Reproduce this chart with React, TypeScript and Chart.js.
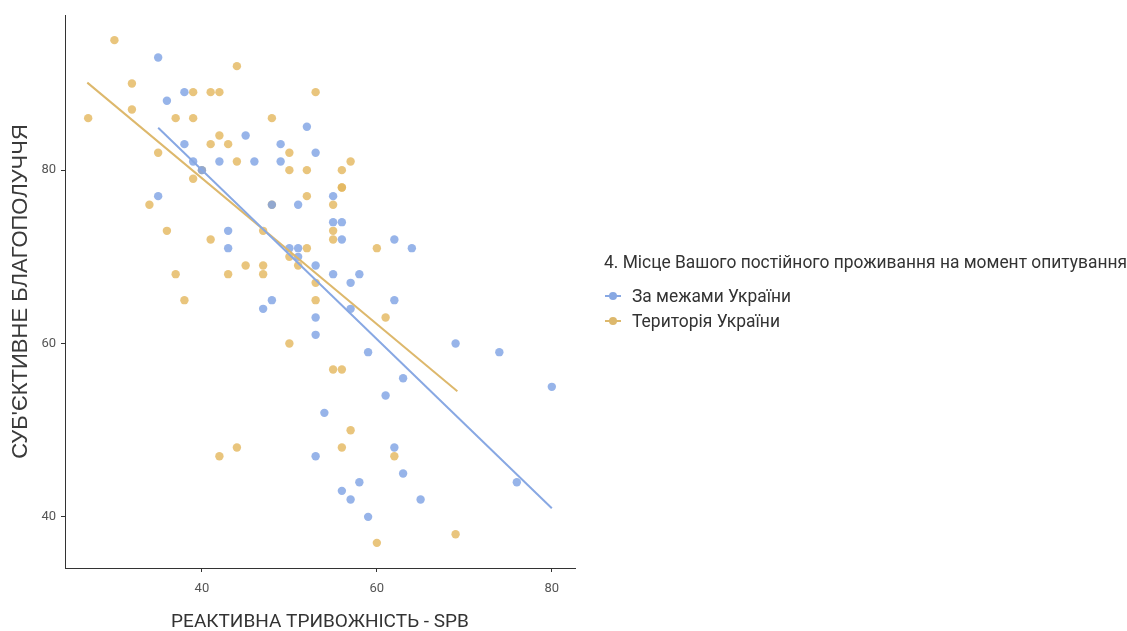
import React, { useEffect, useLayoutEffect, useRef } from "react";
import { Chart, registerables } from "chart.js";

Chart.register(...registerables);

// За межами України (blue)
const abroadX = [35, 38, 36, 45, 38, 39, 42, 46, 35, 40, 52, 49, 53, 49, 55, 48, 51, 43, 43, 55, 56, 56, 62, 64, 50, 51, 51, 53, 55, 58, 57, 48, 62, 47, 57, 53, 53, 59, 63, 61, 54, 53, 62, 63, 58, 56, 57, 65, 59, 69, 74, 80, 76];
const abroadY = [93, 89, 88, 84, 83, 81, 81, 81, 77, 80, 85, 83, 82, 81, 77, 76, 76, 73, 71, 74, 74, 72, 72, 71, 71, 71, 70, 69, 68, 68, 67, 65, 65, 64, 64, 63, 61, 59, 56, 54, 52, 47, 48, 45, 44, 43, 42, 42, 40, 60, 59, 55, 44];

// Територія України (orange)
const homeX = [27, 30, 32, 32, 35, 34, 36, 37, 37, 38, 39, 39, 39, 40, 41, 42, 44, 42, 41, 43, 44, 53, 48, 50, 50, 52, 56, 57, 56, 56, 52, 48, 55, 41, 45, 43, 55, 55, 60, 47, 52, 50, 51, 47, 47, 53, 53, 61, 50, 55, 56, 57, 56, 62, 60, 42, 44, 69];
const homeY = [86, 95, 90, 87, 82, 76, 73, 86, 68, 65, 86, 89, 79, 80, 89, 89, 92, 84, 83, 83, 81, 89, 86, 82, 80, 80, 80, 81, 78, 78, 77, 76, 76, 72, 69, 68, 73, 72, 71, 73, 71, 70, 69, 69, 68, 67, 65, 63, 60, 57, 57, 50, 48, 47, 37, 47, 48, 38];

// Fitted trend lines
const abroadTrendX = [35, 80];
const abroadTrendY = [84.9, 41.0];
const homeTrendX = [26.9, 69.2];
const homeTrendY = [90.1, 54.5];

const xTicks = [40, 60, 80];
const yTicks = [40, 60, 80];

const seriesNames = ["За межами України", "Територія України"];
const legendTitle = "4. Місце Вашого постійного проживання на момент опитування";
const xTitle = "РЕАКТИВНА ТРИВОЖНІСТЬ - SPB";
const yTitle = "СУБ'ЄКТИВНЕ БЛАГОПОЛУЧЧЯ";

const BLUE = "rgba(125,161,227,0.8)";
const ORANGE = "rgba(228,183,92,0.8)";
const BLUE_LINE = "#88a8e3";
const ORANGE_LINE = "#ddb86c";
const FONT = "'Roboto', 'Liberation Sans', sans-serif";
const YFONT = "'Liberation Sans', 'Roboto', sans-serif";

const zip = (xs: number[], ys: number[]) => xs.map((x, i) => ({ x, y: ys[i] }));

function Fit({ width, children, style }: { width: number; children: React.ReactNode; style: React.CSSProperties }) {
  const r = useRef<HTMLDivElement | null>(null);
  useLayoutEffect(() => {
    const el = r.current;
    if (!el) return;
    el.style.transform = "none";
    const w = el.getBoundingClientRect().width;
    if (w > 0) el.style.transform = `scaleX(${width / w})`;
  }, [width]);
  return (
    <div ref={r} style={{ ...style, position: "absolute", whiteSpace: "nowrap", transformOrigin: "left center", display: "inline-block" }}>
      {children}
    </div>
  );
}

export default function App() {
  const ref = useRef<HTMLCanvasElement | null>(null);
  useEffect(() => {
    if (!ref.current) return;
    const chart = new Chart(ref.current, {
      type: "scatter",
      data: {
        datasets: [
          {
            label: seriesNames[0] + " trend",
            type: "line",
            data: zip(abroadTrendX, abroadTrendY),
            borderColor: BLUE_LINE,
            borderWidth: 2,
            pointRadius: 0,
            fill: false,
          },
          {
            label: seriesNames[1] + " trend",
            type: "line",
            data: zip(homeTrendX, homeTrendY),
            borderColor: ORANGE_LINE,
            borderWidth: 2,
            pointRadius: 0,
            fill: false,
          },
          {
            label: seriesNames[0],
            data: zip(abroadX, abroadY),
            backgroundColor: BLUE,
            borderWidth: 0,
            pointRadius: 4.2,
          },
          {
            label: seriesNames[1],
            data: zip(homeX, homeY),
            backgroundColor: ORANGE,
            borderWidth: 0,
            pointRadius: 4.2,
          },
        ],
      },
      options: {
        animation: false,
        responsive: false,
        maintainAspectRatio: false,
        layout: { padding: { left: 0, top: 15, right: 552, bottom: 0 } },
        plugins: { legend: { display: false }, tooltip: { enabled: false } },
        scales: {
          x: {
            type: "linear",
            min: 24.35,
            max: 82.65,
            afterBuildTicks: (s: any) => {
              s.ticks = xTicks.map((v) => ({ value: v }));
            },
            afterFit: (s: any) => {
              s.height = 63;
            },
            border: { color: "#333333", width: 1 },
            grid: { drawOnChartArea: false, tickLength: 4, color: "#333333" },
            ticks: { color: "#555555", font: { family: FONT, size: 13 }, padding: 9 },
            title: {
              display: true,
              text: xTitle,
              color: "#333333",
              font: { family: FONT, size: 19 },
              padding: { top: 6, bottom: -3 },
            },
          },
          y: {
            type: "linear",
            min: 34.1,
            max: 97.9,
            afterBuildTicks: (s: any) => {
              s.ticks = yTicks.map((v) => ({ value: v }));
            },
            afterFit: (s: any) => {
              s.width = 65;
            },
            border: { color: "#333333", width: 1 },
            grid: { drawOnChartArea: false, tickLength: 4, color: "#333333" },
            ticks: { color: "#555555", font: { family: FONT, size: 13 }, padding: 5 },
            title: {
              display: true,
              text: yTitle,
              color: "#3a3a3a",
              font: { family: YFONT, size: 22 },
              padding: { top: 8, bottom: 4 },
            },
          },
        },
      },
    });
    return () => chart.destroy();
  }, []);

  const item = (color: string, text: string, top: number, w: number) => (
    <div style={{ position: "absolute", left: 604, top, height: 24, width: 300 }}>
      <span style={{ position: "absolute", left: 1, top: 11, width: 16, height: 2, background: color }} />
      <span style={{ position: "absolute", left: 5, top: 8, width: 8, height: 8, borderRadius: "50%", background: color }} />
      <Fit width={w} style={{ left: 28, top: 0, fontFamily: FONT, fontSize: 18, lineHeight: "24px", color: "#333333" }}>
        {text}
      </Fit>
    </div>
  );

  return (
    <div style={{ position: "fixed", left: 0, top: 0, width: 1127, height: 631, background: "#fff" }}>
      <canvas ref={ref} width={1127} height={631} style={{ position: "absolute", left: 0, top: 0 }} />
      <Fit width={523} style={{ left: 604, top: 250, fontFamily: FONT, fontSize: 18, lineHeight: "24px", color: "#333333" }}>
        {legendTitle}
      </Fit>
      {item(BLUE_LINE, seriesNames[0], 284, 159)}
      {item(ORANGE_LINE, seriesNames[1], 309, 148)}
    </div>
  );
}
